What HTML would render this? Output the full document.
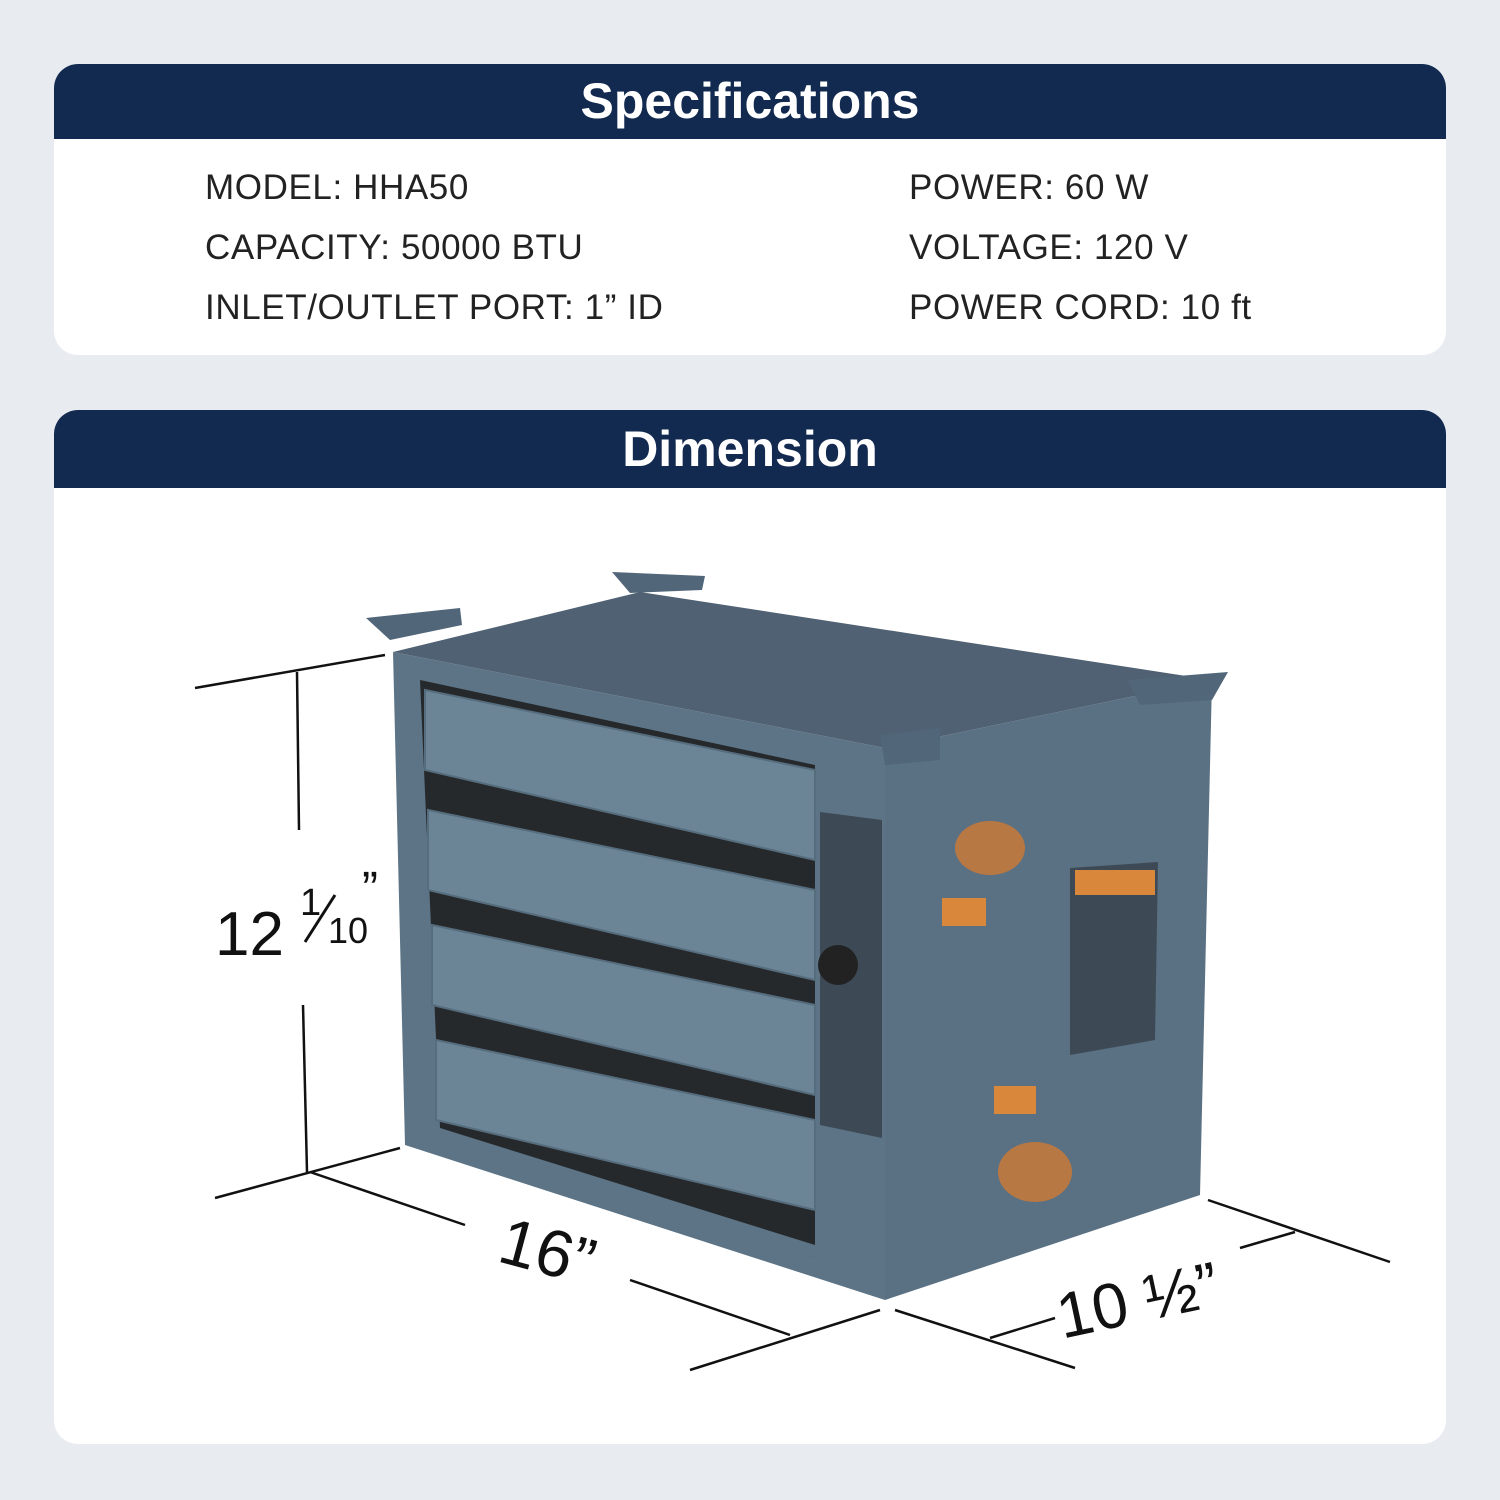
<!DOCTYPE html>
<html><head><meta charset="utf-8"><style>
body{margin:0;width:1500px;height:1500px;background:#e8ecf1;font-family:"Liberation Sans",sans-serif;position:relative;overflow:hidden}
.card{position:absolute;left:54px;width:1392px;background:#fff;border-radius:24px;overflow:hidden}
.hd{background:#132a50;color:#fff;font-weight:bold;text-align:center;font-size:50px}
.t{position:absolute;font-size:35px;color:#222;letter-spacing:0.6px}
</style></head><body>
<div class="card" style="top:64px;height:291px">
<div class="hd" style="height:75px;line-height:75px">Specifications</div>
</div>
<div class="t" style="left:205px;top:168px">MODEL: HHA50</div>
<div class="t" style="left:205px;top:228px">CAPACITY: 50000 BTU</div>
<div class="t" style="left:205px;top:288px">INLET/OUTLET PORT: 1” ID</div>
<div class="t" style="left:909px;top:168px">POWER: 60 W</div>
<div class="t" style="left:909px;top:228px">VOLTAGE: 120 V</div>
<div class="t" style="left:909px;top:288px">POWER CORD: 10 ft</div>
<div class="card" style="top:410px;height:1034px">
<div class="hd" style="height:78px;line-height:78px">Dimension</div>
</div>
<svg style="position:absolute;left:0;top:0" width="1500" height="1500">
<g stroke="#111" stroke-width="2.5" fill="none">
<line x1="195" y1="688" x2="385" y2="655"/><line x1="297" y1="672" x2="299" y2="830"/>
<line x1="303" y1="1005" x2="307" y2="1172"/><line x1="215" y1="1198" x2="400" y2="1148"/>
<line x1="310" y1="1172" x2="465" y2="1225"/><line x1="630" y1="1280" x2="790" y2="1335"/>
<line x1="690" y1="1370" x2="880" y2="1310"/><line x1="895" y1="1310" x2="1075" y2="1368"/>
<line x1="990" y1="1338" x2="1055" y2="1318"/><line x1="1240" y1="1248" x2="1295" y2="1232"/>
<line x1="1208" y1="1200" x2="1390" y2="1262"/>
</g>
<polygon points="393,652 640,592 1212,680 885,748" fill="#4f6172"/>
<polygon points="885,748 1212,680 1200,1195 885,1300" fill="#5a7083"/>
<polygon points="393,652 885,748 885,1300 405,1145" fill="#5c7486"/>
<polygon points="420,680 815,765 815,1258 440,1128" fill="#26292c"/>
<g fill="#6b8496" stroke="#566d7e" stroke-width="2">
<polygon points="425,690 815,770 815,860 425,770"/>
<polygon points="428,810 815,890 815,980 428,890"/>
<polygon points="432,925 815,1005 815,1095 432,1005"/>
<polygon points="436,1040 815,1120 815,1210 436,1120"/>
</g>
<polygon points="440,1128 815,1245 815,1258 440,1140" fill="#5c7486"/>
<polygon points="820,812 882,820 882,1138 820,1125" fill="#3d4a55"/>
<circle cx="838" cy="965" r="20" fill="#222"/>
<polygon points="1070,868 1158,862 1155,1040 1070,1055" fill="#3d4a55"/>
<rect x="1075" y="870" width="80" height="25" fill="#d9873a"/>
<rect x="942" y="898" width="44" height="28" fill="#d9873a"/><rect x="994" y="1086" width="42" height="28" fill="#d9873a"/>
<ellipse cx="990" cy="848" rx="35" ry="27" fill="#b87843"/><ellipse cx="1035" cy="1172" rx="37" ry="30" fill="#b87843"/>
<polygon points="366,618 460,608 462,625 390,640" fill="#52667a"/>
<polygon points="612,572 705,576 702,590 630,593" fill="#52667a"/>
<polygon points="1128,680 1228,672 1212,700 1140,705" fill="#52667a"/>
<polygon points="880,735 940,728 940,760 885,765" fill="#52667a"/>
<g font-family="Liberation Sans,sans-serif" fill="#111">
<text x="215" y="955" font-size="62">12</text>
<text x="300" y="915" font-size="38">1</text>
<line x1="305" y1="942" x2="335" y2="895" stroke="#111" stroke-width="3"/>
<text x="328" y="943" font-size="36">10</text>
<text x="362" y="905" font-size="48">”</text>
<text x="500" y="1272" font-size="66" transform="rotate(15 540 1250)">16”</text>
<text x="1055" y="1330" font-size="64" transform="rotate(-12 1100 1300)">10 ½”</text>
</g>
</svg>
</body></html>
